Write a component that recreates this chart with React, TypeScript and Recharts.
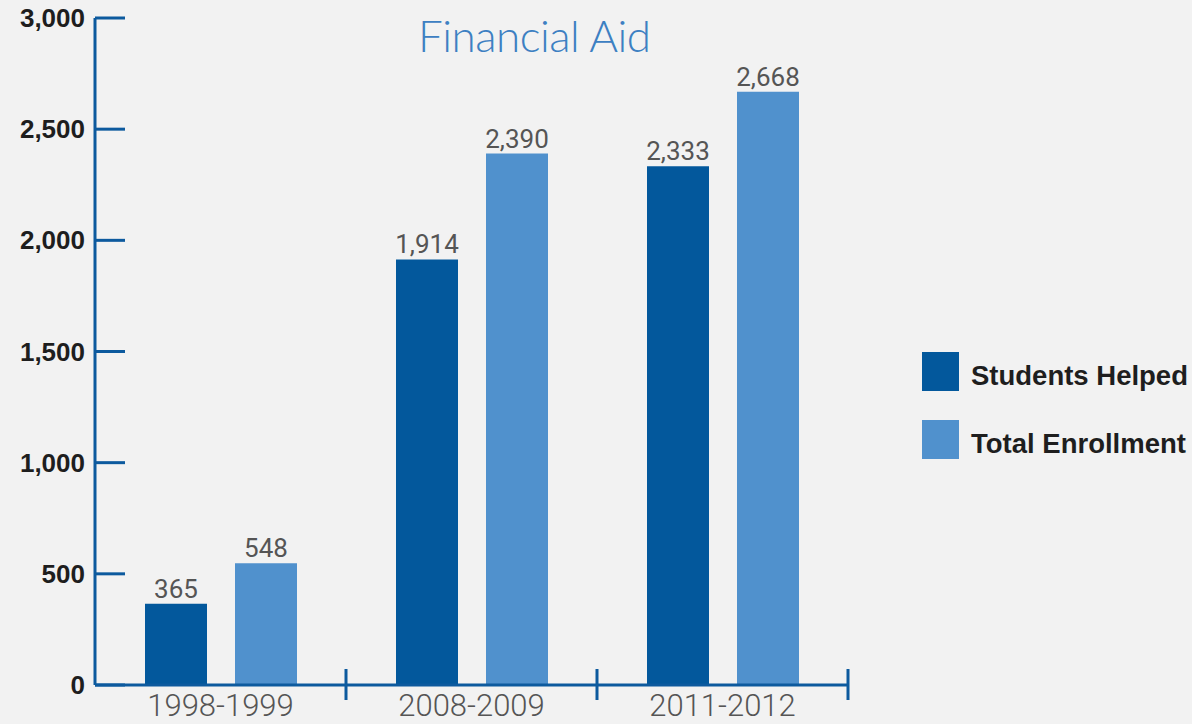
import { Bar, BarChart, LabelList, Legend, XAxis, YAxis } from "recharts";

const periods = ["1998-1999", "2008-2009", "2011-2012"];
const studentsHelped = [365, 1914, 2333];
const totalEnrollment = [548, 2390, 2668];
const yTicks = [0, 500, 1000, 1500, 2000, 2500, 3000];

const seriesNames = ["Students Helped", "Total Enrollment"];
const colors = ["#03589c", "#5091cd"];
const axisColor = "#0d5a9e";

const data = periods.map((period, i) => ({
  period,
  helped: studentsHelped[i],
  enrollment: totalEnrollment[i],
}));

const WIDTH = 1192;
const HEIGHT = 724;
const margin = { top: 18, right: 344, bottom: 0, left: 0 };
const yAxisWidth = 95;
const xAxisHeight = 39;
const plotWidth = WIDTH - margin.left - margin.right - yAxisWidth;
const band = plotWidth / periods.length;

const fmt = (v: number) => v.toLocaleString("en-US");

function YTick(props: any) {
  const { x, y, payload } = props;
  const axisX = x + 10;
  return (
    <g>
      <line x1={axisX} x2={axisX + 30} y1={y} y2={y} stroke={axisColor} strokeWidth={3} />
      <text
        x={x}
        y={y}
        dy={9}
        textAnchor="end"
        fill="#1e1e1e"
        fontSize={26}
        fontWeight={700}
        fontFamily="'Liberation Sans', Arial, sans-serif"
      >
        {fmt(payload.value)}
      </text>
    </g>
  );
}

function XTick(props: any) {
  const { x, y, payload } = props;
  const axisY = y;
  const edge = x + band / 2;
  return (
    <g>
      <line x1={edge} x2={edge} y1={axisY - 16} y2={axisY + 15} stroke={axisColor} strokeWidth={3} />
      <text
        x={x}
        y={axisY + 31}
        textAnchor="middle"
        fill="#555"
        fontSize={31}
        fontWeight={300}
        fontFamily="Roboto, 'Liberation Sans', sans-serif"
      >
        {payload.value}
      </text>
    </g>
  );
}

function LegendContent() {
  return (
    <div style={{ display: "flex", flexDirection: "column", gap: 29 }}>
      {seriesNames.map((name, i) => (
        <div key={name} style={{ display: "flex", alignItems: "center", height: 39 }}>
          <div style={{ width: 37, height: 39, background: colors[i], marginRight: 12 }} />
          <span
            style={{
              fontFamily: "'Liberation Sans', Arial, sans-serif",
              fontWeight: 700,
              fontSize: 27.5,
              color: "#1e1e1e",
              whiteSpace: "nowrap",
              paddingTop: 9,
            }}
          >
            {name}
          </span>
        </div>
      ))}
    </div>
  );
}

export default function App() {
  return (
    <div
      style={{
        position: "absolute",
        left: 0,
        top: 0,
        width: WIDTH,
        height: HEIGHT,
        background: "#f2f2f2",
      }}
    >
      <div
        style={{
          position: "absolute",
          left: 418,
          top: 9,
          fontSize: 44,
          fontWeight: 300,
          fontFamily: "Lato, Roboto, sans-serif",
          color: "#3d80c2",
          letterSpacing: -0.5,
        }}
      >
        Financial Aid
      </div>
      <BarChart
        width={WIDTH}
        height={HEIGHT}
        data={data}
        margin={margin}
        barSize={62}
        barGap={28}
      >
        <XAxis
          dataKey="period"
          height={xAxisHeight}
          axisLine={{ stroke: axisColor, strokeWidth: 3 }}
          tickLine={false}
          tickSize={0}
          tickMargin={0}
          tick={<XTick />}
          interval={0}
        />
        <YAxis
          width={yAxisWidth}
          domain={[0, 3000]}
          ticks={yTicks}
          interval={0}
          axisLine={{ stroke: axisColor, strokeWidth: 3 }}
          tickLine={false}
          tickSize={0}
          tickMargin={10}
          tick={<YTick />}
        />
        <Legend
          layout="horizontal"
          align="center"
          verticalAlign="middle"
          content={<LegendContent />}
          wrapperStyle={{ left: 922, top: 352, width: "auto" }}
        />
        <Bar dataKey="helped" name={seriesNames[0]} fill={colors[0]} isAnimationActive={false}>
          <LabelList
            dataKey="helped"
            position="top"
            offset={6}
            formatter={(v: any) => fmt(Number(v))}
            fill="#555"
            fontSize={26}
            fontFamily="Roboto, 'Liberation Sans', sans-serif"
          />
        </Bar>
        <Bar dataKey="enrollment" name={seriesNames[1]} fill={colors[1]} isAnimationActive={false}>
          <LabelList
            dataKey="enrollment"
            position="top"
            offset={6}
            formatter={(v: any) => fmt(Number(v))}
            fill="#555"
            fontSize={26}
            fontFamily="Roboto, 'Liberation Sans', sans-serif"
          />
        </Bar>
      </BarChart>
    </div>
  );
}
